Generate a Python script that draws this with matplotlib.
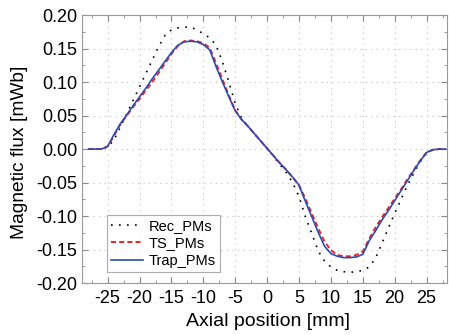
import numpy as np
import matplotlib.pyplot as plt
from matplotlib.ticker import MultipleLocator, FormatStrFormatter

plt.rcParams['font.family'] = ['Liberation Sans', 'DejaVu Sans']
plt.rcParams['axes.unicode_minus'] = False

# axial position [mm]
pos = np.arange(-28, 29, 1)

rec_pms = [0.000, 0.000, 0.000, 0.003, 0.014, 0.033, 0.053, 0.073, 0.093, 0.113,
           0.133, 0.153, 0.170, 0.178, 0.181, 0.182, 0.182, 0.178, 0.172, 0.166,
           0.155, 0.130, 0.100, 0.068, 0.046, 0.034, 0.023, 0.012, 0.001, -0.011,
           -0.023, -0.035, -0.050, -0.071, -0.101, -0.126, -0.152, -0.167, -0.176, -0.181,
           -0.183, -0.184, -0.183, -0.181, -0.176, -0.163, -0.141, -0.118, -0.096, -0.075,
           -0.054, -0.036, -0.019, -0.006, -0.001, 0.000, 0.000]

ts_pms = [0.000, 0.000, 0.000, 0.004, 0.020, 0.037, 0.050, 0.063, 0.075, 0.088,
          0.100, 0.114, 0.128, 0.142, 0.154, 0.161, 0.162, 0.161, 0.158, 0.151,
          0.128, 0.104, 0.080, 0.058, 0.044, 0.034, 0.023, 0.012, 0.001, -0.010,
          -0.021, -0.031, -0.042, -0.054, -0.074, -0.096, -0.118, -0.138, -0.151, -0.158,
          -0.160, -0.160, -0.158, -0.153, -0.134, -0.117, -0.102, -0.088, -0.074, -0.060,
          -0.045, -0.031, -0.017, -0.005, -0.001, 0.000, 0.000]

trap_pms = [0.000, 0.000, 0.000, 0.004, 0.022, 0.038, 0.051, 0.065, 0.078, 0.091,
            0.105, 0.118, 0.131, 0.144, 0.155, 0.160, 0.161, 0.160, 0.156, 0.148,
            0.123, 0.100, 0.078, 0.057, 0.044, 0.034, 0.023, 0.012, 0.001, -0.010,
            -0.021, -0.031, -0.042, -0.054, -0.078, -0.101, -0.124, -0.145, -0.156, -0.160,
            -0.162, -0.162, -0.161, -0.157, -0.137, -0.122, -0.106, -0.092, -0.077, -0.062,
            -0.047, -0.032, -0.018, -0.005, -0.001, 0.000, 0.000]

fig = plt.figure(figsize=(4.49, 3.35), dpi=100)
ax = fig.add_axes([0.183, 0.155, 0.8125, 0.8])

ax.plot(pos, rec_pms, color='black', lw=1.2, linestyle=(0, (1, 3.8)), label='Rec_PMs')
ax.plot(pos, ts_pms, color='#e8242a', lw=1.4, linestyle=(0, (2.6, 1.6)), label='TS_PMs')
ax.plot(pos, trap_pms, color='#2b4cb0', lw=1.2, label='Trap_PMs')

ax.set_xlim(-29, 28.2)
ax.set_ylim(-0.2, 0.2)
ax.xaxis.set_major_locator(MultipleLocator(5))
ax.xaxis.set_minor_locator(MultipleLocator(2.5))
ax.yaxis.set_major_locator(MultipleLocator(0.05))
ax.yaxis.set_minor_locator(MultipleLocator(0.025))
ax.yaxis.set_major_formatter(FormatStrFormatter('%.2f'))

ax.tick_params(which='both', direction='in', top=True, right=True, color='#888888',
               labelsize=13)
ax.tick_params(which='major', length=4)
ax.tick_params(which='minor', length=2)
ax.tick_params(axis='x', pad=5)
ax.tick_params(axis='y', pad=3.6)
for s in ax.spines.values():
    s.set_color('#999999')

ax.grid(True, which='major', color='#c0c0c0', linestyle=(0, (1, 4)), lw=0.8)

ax.set_xlabel('Axial position [mm]', fontsize=14, va='top')
ax.xaxis.set_label_coords(0.51, -0.112)
ax.set_ylabel('Magnetic flux [mWb]', fontsize=13.8)
ax.yaxis.set_label_coords(-0.148, 0.489)

leg = ax.legend(loc='lower left', bbox_to_anchor=(0.068, 0.041), borderaxespad=0,
                fancybox=False, edgecolor='#999999', fontsize=10.5, handlelength=2.2,
                handletextpad=0.35, borderpad=0.3, labelspacing=0.22)
leg.get_frame().set_linewidth(0.8)

fig.savefig('out.png', dpi=100)
